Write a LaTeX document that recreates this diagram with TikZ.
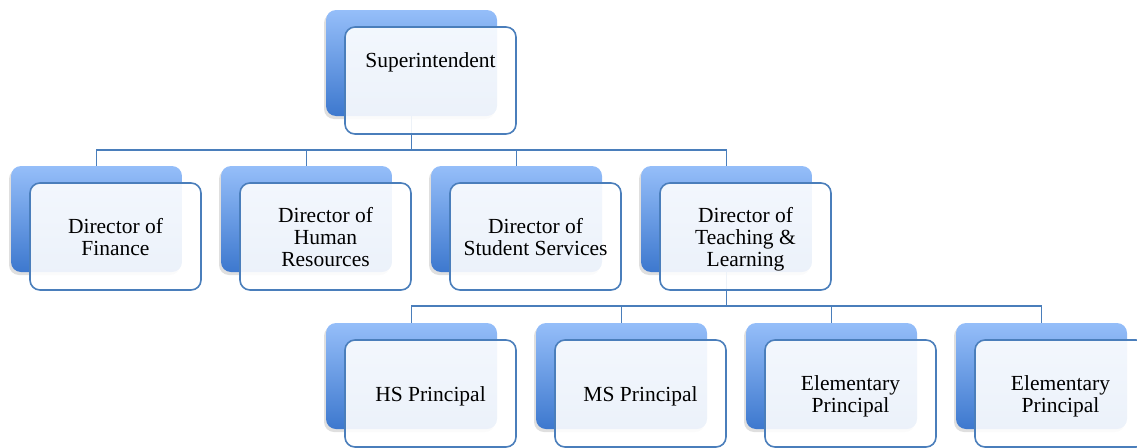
\documentclass[tikz,border=0pt]{standalone}
\usepackage{fontspec}
\setmainfont{Liberation Serif}
\usetikzlibrary{
    calc,
    shadows,
    positioning
}
\definecolor{boxtop}{HTML}{95BEF9}
\definecolor{boxbot}{HTML}{3D78CE}
\definecolor{boxline}{HTML}{4A7EBB}
\newcommand{\boxtext}[2][-3.5pt]{\raisebox{#1}[\height][\depth]{\begin{tabular}{@{}c@{}}#2\end{tabular}}}
\tikzset{
    backbox/.style={rectangle, rounded corners=10pt, minimum width=171pt, minimum height=106pt,
        inner sep=0pt, top color=boxtop, bottom color=boxbot,
        drop shadow={shadow xshift=-2pt, shadow yshift=-3pt, opacity=0.25}},
    frontbox/.style={rectangle, rounded corners=10pt, minimum width=171pt, minimum height=107pt,
        inner sep=0pt, draw=boxline, line width=1.6pt, fill=white, fill opacity=0.9, text opacity=1,
        align=center, font=\fontsize{21.5}{22}\selectfont},
    link/.style={draw=boxline, line width=1.6pt}
}

\begin{document}
\begin{tikzpicture}[x=1pt, y=-1pt]
    \useasboundingbox (0,0) rectangle (1137,447);
    \node[backbox] (supt) at (411.5,63) {};
    \node[backbox] (fin) at (96.5,219) {};
    \node[backbox] (hr) at (306.5,219) {};
    \node[backbox] (stu) at (516.5,219) {};
    \node[backbox] (tl) at (726.5,219) {};
    \node[backbox] (hs) at (411.5,376) {};
    \node[backbox] (ms) at (621.5,376) {};
    \node[backbox] (elema) at (831.5,376) {};
    \node[backbox] (elemb) at (1041.5,376) {};
    \draw[link]
    (supt.south) -- ++(0,34) -| (fin.north)
    (supt.south) -- ++(0,34) -| (hr.north)
    (supt.south) -- ++(0,34) -| (stu.north)
    (supt.south) -- ++(0,34) -| (tl.north);
    \draw[link]
    (tl.south) -- ++(0,34) -| (hs.north)
    (tl.south) -- ++(0,34) -| (ms.north)
    (tl.south) -- ++(0,34) -| (elema.north)
    (tl.south) -- ++(0,34) -| (elemb.north);
    \node[frontbox] (supt-f) at ([shift={(19,17.5)}]supt.center) {\boxtext[17pt]{Superintendent}};
    \node[frontbox] (fin-f) at ([shift={(19,17.5)}]fin.center) {\boxtext{Director of\\Finance}};
    \node[frontbox] (hr-f) at ([shift={(19,17.5)}]hr.center) {\boxtext{Director of\\Human\\Resources}};
    \node[frontbox] (stu-f) at ([shift={(19,17.5)}]stu.center) {\boxtext{Director of\\Student Services}};
    \node[frontbox] (tl-f) at ([shift={(19,17.5)}]tl.center) {\boxtext{Director of\\Teaching \&\\Learning}};
    \node[frontbox] (hs-f) at ([shift={(19,17.5)}]hs.center) {\boxtext{HS Principal}};
    \node[frontbox] (ms-f) at ([shift={(19,17.5)}]ms.center) {\boxtext{MS Principal}};
    \node[frontbox] (elema-f) at ([shift={(19,17.5)}]elema.center) {\boxtext{Elementary\\Principal}};
    \node[frontbox] (elemb-f) at ([shift={(19,17.5)}]elemb.center) {\boxtext{Elementary\\Principal}};
\end{tikzpicture}
\end{document}
